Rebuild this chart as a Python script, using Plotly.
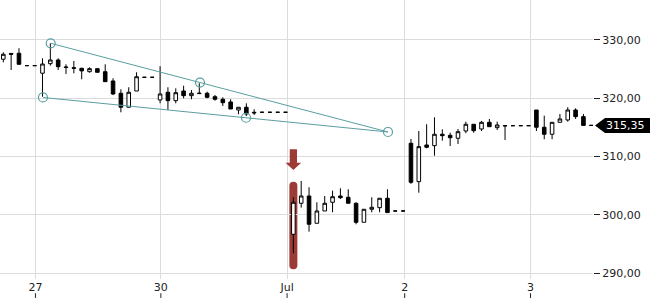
import plotly.graph_objects as go

# ---- candle data (one slot per bar) ----
slots = list(range(76))
opens = [326.70, 327.70, 327.72, 325.60, 325.60, 324.30, 325.94, 326.57, 325.28, 325.25,
         325.15, 324.56, 325.08, 324.56, 322.97, 320.86, 318.46, 321.25, 323.60, 323.60,
         319.71, 321.03, 319.59, 321.25, 320.45, 320.80, 320.86, 320.27, 319.83, 319.37,
         317.99, 318.46, 317.60, 317.60, 317.60, 317.60, 317.60, 296.67, 301.99, 303.24,
         298.56, 300.67, 302.16, 303.24, 303.02, 301.99, 298.73, 300.96, 301.24, 302.85,
         300.67, 300.67, 312.28, 305.70, 311.99, 311.87, 313.83, 313.65, 313.14, 314.39,
         315.54, 314.73, 315.88, 314.96, 315.25, 315.30, 315.30, 315.30, 317.99, 315.03,
         313.83, 315.88, 316.28, 317.99, 316.85, 315.35]
highs = [327.89, 327.70, 328.58, 325.60, 325.60, 326.86, 329.43, 326.86, 325.83, 326.40,
         325.20, 325.30, 325.10, 325.83, 323.43, 321.54, 321.89, 324.46, 323.60, 323.60,
         325.50, 321.89, 321.71, 322.16, 321.42, 322.57, 321.14, 320.57, 320.17, 319.83,
         318.46, 319.14, 318.11, 317.60, 317.60, 317.60, 317.60, 303.02, 305.81, 304.73,
         302.16, 303.24, 304.16, 304.56, 304.39, 302.16, 300.96, 303.02, 302.85, 304.39,
         300.67, 300.67, 313.02, 314.39, 315.54, 316.74, 314.68, 314.10, 314.73, 315.99,
         315.54, 316.11, 316.45, 315.99, 315.30, 315.30, 315.30, 315.30, 317.99, 317.02,
         315.88, 317.31, 318.46, 318.28, 317.31, 315.35]
lows = [326.17, 324.85, 325.83, 325.60, 325.60, 320.27, 325.60, 324.85, 324.17, 324.29,
        323.26, 324.40, 324.46, 322.85, 320.57, 317.60, 318.46, 321.25, 323.60, 323.60,
        319.14, 318.00, 319.14, 320.00, 319.83, 320.80, 320.00, 319.59, 318.68, 318.16,
        317.26, 316.96, 317.14, 317.60, 317.60, 317.60, 317.60, 293.41, 301.24, 297.12,
        298.56, 300.67, 300.45, 302.73, 301.99, 298.39, 298.73, 300.45, 300.45, 300.39,
        300.67, 300.67, 305.32, 303.81, 311.42, 310.15, 312.73, 311.82, 312.16, 314.00,
        314.10, 314.39, 315.13, 314.56, 312.85, 315.30, 315.30, 315.30, 314.39, 312.97,
        312.97, 315.88, 315.99, 316.45, 315.35, 315.35]
closes = [327.55, 327.55, 325.83, 325.60, 325.60, 325.88, 326.57, 325.42, 325.35, 325.15,
          324.70, 325.08, 324.46, 322.85, 320.74, 318.46, 321.03, 323.70, 323.60, 323.60,
          320.74, 319.59, 320.96, 320.45, 320.86, 320.86, 320.17, 319.83, 319.25, 318.16,
          318.46, 317.31, 317.50, 317.60, 317.60, 317.60, 317.60, 302.16, 303.24, 298.39,
          300.67, 301.99, 303.12, 302.95, 301.99, 298.73, 300.96, 301.30, 302.85, 300.39,
          300.67, 300.67, 305.59, 311.70, 311.60, 313.83, 313.59, 313.24, 314.27, 315.54,
          314.44, 315.88, 315.13, 315.42, 315.30, 315.30, 315.30, 315.30, 315.03, 313.83,
          315.88, 316.45, 317.99, 316.85, 315.35, 315.35]

# ---- axis ticks ----
x_tick_vals = [4.1, 20.1, 36.2, 51.2, 67.25]
x_tick_text = ["27", "30", "Jul", "2", "3"]
y_tick_vals = [290, 300, 310, 320, 330]
last_price = 315.35

# ---- drawing tools (trend lines / anchors) ----
upper_line_x = [6.05, 49.07]
upper_line_y = [329.43, 314.22]
lower_line_x = [5.06, 49.07]
lower_line_y = [320.14, 314.22]
anchor_x = [6.05, 5.06, 25.09, 30.96, 49.07]
anchor_y = [329.43, 320.14, 322.69, 316.66, 314.22]

# ---- highlight marker ----
hl_slot = 37
hl_top, hl_bottom = 305.70, 290.67
arrow_top, arrow_neck, arrow_tip = 311.25, 308.95, 307.70

TEAL = "#5a9fa0"
RED = "#9c3a35"
GRID = "#dcdcdc"
FONT = "DejaVu Sans"

fig = go.Figure()
fig.add_trace(go.Candlestick(
    x=slots, open=opens, high=highs, low=lows, close=closes,
    increasing=dict(line=dict(color="black", width=1), fillcolor="white"),
    decreasing=dict(line=dict(color="black", width=1), fillcolor="black"),
    whiskerwidth=0, showlegend=False, hoverinfo="skip"))

for lx, ly in [(upper_line_x, upper_line_y), (lower_line_x, lower_line_y)]:
    fig.add_trace(go.Scatter(x=lx, y=ly, mode="lines",
                             line=dict(color=TEAL, width=1),
                             showlegend=False, hoverinfo="skip"))
fig.add_trace(go.Scatter(x=anchor_x, y=anchor_y, mode="markers",
                         marker=dict(symbol="circle-open", size=9,
                                     line=dict(color=TEAL, width=1.2), color=TEAL),
                         showlegend=False, hoverinfo="skip"))

shapes = []
# red rounded highlight bar
w, r = 0.51, 0.69
x0 = hl_slot
bar_path = (f"M {x0-w},{hl_top-r} Q {x0-w},{hl_top} {x0},{hl_top} "
            f"Q {x0+w},{hl_top} {x0+w},{hl_top-r} L {x0+w},{hl_bottom+r} "
            f"Q {x0+w},{hl_bottom} {x0},{hl_bottom} Q {x0-w},{hl_bottom} {x0-w},{hl_bottom+r} Z")
shapes.append(dict(type="path", path=bar_path, xref="x", yref="y",
                   fillcolor=RED, line=dict(width=0), layer="below"))
# red down arrow
sw, hw = 0.46, 1.0
arrow_path = (f"M {x0-sw},{arrow_top} L {x0+sw},{arrow_top} L {x0+sw},{arrow_neck} "
              f"L {x0+hw},{arrow_neck} L {x0},{arrow_tip} L {x0-hw},{arrow_neck} "
              f"L {x0-sw},{arrow_neck} Z")
shapes.append(dict(type="path", path=arrow_path, xref="x", yref="y",
                   fillcolor=RED, line=dict(width=0)))

# x tick marks below the labels
for tv in x_tick_vals:
    shapes.append(dict(type="line", xref="x", yref="paper", x0=tv, x1=tv,
                       y0=-0.051, y1=-0.068, line=dict(color="#222", width=1)))

# last price tag
plot_w = 593.0
pw = 5.83  # px per price unit
half_h = 7.5 / pw
tip_x, base_x, end_x = 595 / plot_w, 605 / plot_w, 650 / plot_w
tag_path = (f"M {tip_x},{last_price} L {base_x},{last_price+half_h} L {end_x},{last_price+half_h} "
            f"L {end_x},{last_price-half_h} L {base_x},{last_price-half_h} Z")
shapes.append(dict(type="path", path=tag_path, xref="paper", yref="y",
                   fillcolor="black", line=dict(width=0)))

fig.update_layout(
    width=650, height=300,
    margin=dict(l=0, r=57, t=0, b=21, pad=0),
    paper_bgcolor="white", plot_bgcolor="white",
    separators=",.",
    boxgap=0.35,
    font=dict(family=FONT, size=11, color="#222"),
    shapes=shapes,
    annotations=[dict(xref="paper", yref="y", x=625.5 / plot_w, y=last_price,
                      text=f"{last_price:.2f}".replace(".", ","), showarrow=False,
                      font=dict(family=FONT, size=11, color="white"),
                      xanchor="center", yanchor="middle")],
    xaxis=dict(range=[-0.42, 75.22], tickvals=x_tick_vals, ticktext=x_tick_text,
               showgrid=True, gridcolor=GRID, gridwidth=1, ticks="",
               zeroline=False, showline=False, rangeslider=dict(visible=False),
               tickfont=dict(family=FONT, size=11, color="#222")),
    yaxis=dict(side="right", range=[289.0, 336.86], tickvals=y_tick_vals,
               tickformat=".2f", showgrid=True, gridcolor=GRID, gridwidth=1,
               ticks="outside", ticklen=6, tickcolor="#222", zeroline=False,
               showline=False, tickfont=dict(family=FONT, size=11, color="#222")),
)

fig.write_html("out.html")
